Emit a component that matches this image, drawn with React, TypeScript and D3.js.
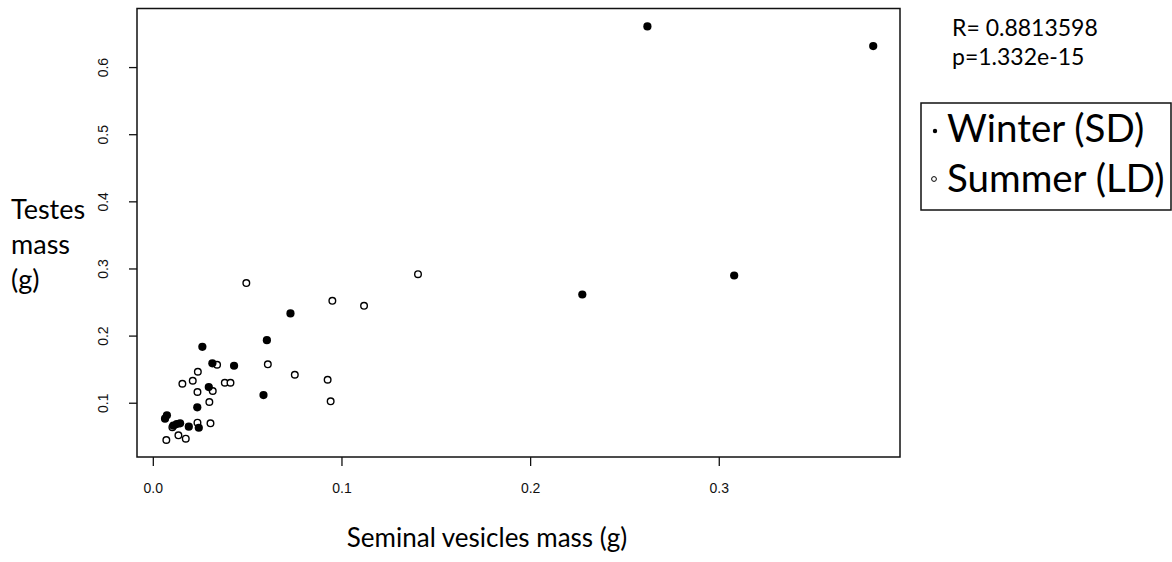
import React from "react";
import * as d3 from "d3";

const winterX = [0.2619, 0.3816, 0.3079, 0.2274, 0.0727, 0.0602, 0.026, 0.0313, 0.0428, 0.0294, 0.0584, 0.0233, 0.0062, 0.0072, 0.0106, 0.0124, 0.0142, 0.0188, 0.0241];
const winterY = [0.6613, 0.632, 0.2903, 0.262, 0.2337, 0.194, 0.184, 0.1594, 0.1558, 0.1241, 0.1122, 0.0939, 0.077, 0.082, 0.0665, 0.069, 0.07, 0.065, 0.0635];
const summerX = [0.0493, 0.0949, 0.1117, 0.1403, 0.0607, 0.075, 0.0924, 0.094, 0.0379, 0.0409, 0.0338, 0.0236, 0.0209, 0.0154, 0.0234, 0.0315, 0.0297, 0.0101, 0.0234, 0.0303, 0.0069, 0.0133, 0.0172];
const summerY = [0.279, 0.2525, 0.2451, 0.2923, 0.1579, 0.1424, 0.135, 0.1028, 0.1305, 0.1305, 0.1573, 0.1469, 0.1335, 0.129, 0.1167, 0.1182, 0.1018, 0.0641, 0.071, 0.07, 0.0452, 0.0522, 0.0472];

const xTicks = [0, 0.1, 0.2, 0.3];
const yTicks = [0.1, 0.2, 0.3, 0.4, 0.5, 0.6];
const xDomain = [-0.00865, 0.3958];
const yDomain = [0.0199, 0.688];

const statLines = ["R= 0.8813598", "p=1.332e-15"];
const legendLabels = ["Winter (SD)", "Summer (LD)"];
const yTitleLines = ["Testes", "mass", "(g)"];
const xTitle = "Seminal vesicles mass (g)";

const L = 137, R = 900, T = 8.5, B = 457;

export default function App() {
  const x = d3.scaleLinear().domain(xDomain).range([L, R]);
  const y = d3.scaleLinear().domain(yDomain).range([B, T]);
  const fmt = d3.format(".1f");
  const tickFont = "'Liberation Sans', Arial, sans-serif";
  const textFont = "Lato, 'Open Sans', sans-serif";
  return (
    <svg width={1172} height={562} style={{ position: "absolute", left: 0, top: 0, background: "#fff" }}>
      <rect x={0} y={0} width={1172} height={562} fill="#fff" />
      <rect x={L} y={T} width={R - L} height={B - T} fill="none" stroke="#111" strokeWidth={1.5} />
      {xTicks.map((t) => (
        <g key={"x" + t}>
          <line x1={x(t)} x2={x(t)} y1={B} y2={B + 9} stroke="#111" strokeWidth={1.3} />
          <text x={x(t)} y={493} textAnchor="middle" fontFamily={tickFont} fontSize={14} fill="#111">{fmt(t)}</text>
        </g>
      ))}
      {yTicks.map((t) => (
        <g key={"y" + t}>
          <line x1={L - 8} x2={L} y1={y(t)} y2={y(t)} stroke="#111" strokeWidth={1.3} />
          <text transform={`translate(108,${y(t)}) rotate(-90)`} textAnchor="middle" fontFamily={tickFont} fontSize={14} fill="#111">{fmt(t)}</text>
        </g>
      ))}
      {summerX.map((v, i) => (
        <circle key={"s" + i} cx={x(v)} cy={y(summerY[i])} r={3.3} fill="#fff" stroke="#000" strokeWidth={1.4} />
      ))}
      {winterX.map((v, i) => (
        <circle key={"w" + i} cx={x(v)} cy={y(winterY[i])} r={4.1} fill="#000" />
      ))}
      <text x={487} y={547} textAnchor="middle" fontFamily={textFont} fontSize={26} fill="#000">{xTitle}</text>
      {yTitleLines.map((s, i) => (
        <text key={s} x={11} y={219 + i * 35} fontFamily={textFont} fontSize={27} fill="#000">{s}</text>
      ))}
      {statLines.map((s, i) => (
        <text key={s} x={952} y={36 + i * 29} fontFamily={textFont} fontSize={23} fill="#000">{s}</text>
      ))}
      <rect x={921} y={103} width={250} height={107} fill="#fff" stroke="#111" strokeWidth={1.5} />
      <circle cx={935} cy={131} r={2.2} fill="#000" />
      <circle cx={934} cy={179} r={2.4} fill="#fff" stroke="#000" strokeWidth={1} />
      {legendLabels.map((s, i) => (
        <text key={s} x={947} y={142 + i * 50} fontFamily={textFont} fontSize={38.5} fill="#000">{s}</text>
      ))}
    </svg>
  );
}
